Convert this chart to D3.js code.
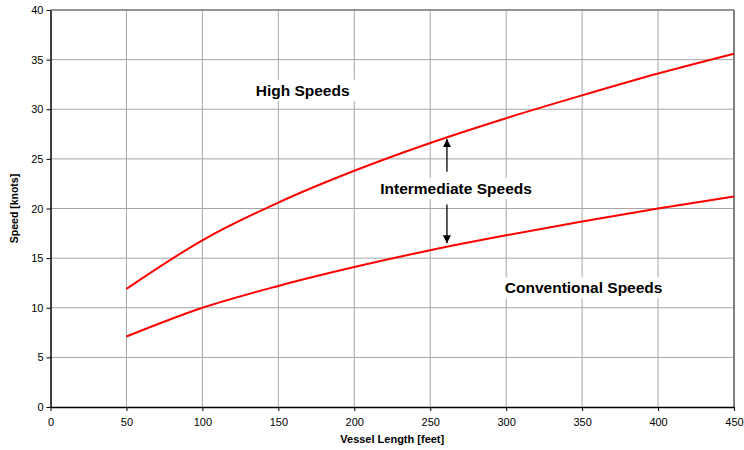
<!DOCTYPE html>
<html>
<head>
<meta charset="utf-8">
<script src="https://cdn.jsdelivr.net/npm/d3@7"></script>
<style>
  body { margin: 0; background: #fff; }
  text { font-family: 'Liberation Sans', Arial, sans-serif; }
</style>
</head>
<body>
<div id="chart"></div>
<script>
const lengths = [50, 100, 150, 200, 250, 300, 350, 400, 450]
const highSpeed = [11.9, 16.8, 20.6, 23.8, 26.6, 29.1, 31.4, 33.6, 35.6]
const conventionalSpeed = [7.1, 10.0, 12.2, 14.1, 15.8, 17.3, 18.7, 20.0, 21.2]
const xTicks = [0, 50, 100, 150, 200, 250, 300, 350, 400, 450]
const yTicks = [0, 5, 10, 15, 20, 25, 30, 35, 40]
const labels = [
  { text: 'High Speeds', x: 166, y: 31.9 },
  { text: 'Intermediate Speeds', x: 267, y: 22.0 },
  { text: 'Conventional Speeds', x: 351, y: 12.0 }
]
const arrows = [
  { x: 261, from: 23.7, to: 27.0 },
  { x: 261, from: 20.4, to: 16.5 }
]

const margin = { top: 10, left: 50.5, right: 10, bottom: 43 }
const width = 744 - margin.left - margin.right
const height = 450 - margin.top - margin.bottom

const root = d3.select('#chart')
  .append('svg')
  .attr('width', 744)
  .attr('height', 450)

root.append('defs').append('marker')
  .attr('id', 'head')
  .attr('viewBox', '0 0 10 10')
  .attr('refX', 10).attr('refY', 5)
  .attr('markerWidth', 8).attr('markerHeight', 8)
  .attr('markerUnits', 'userSpaceOnUse')
  .attr('orient', 'auto')
  .append('path')
  .attr('d', 'M0,0L10,5L0,10Z')
  .attr('fill', '#000')

const svg = root.append('g')
  .attr('transform', 'translate(' + margin.left + ',' + margin.top + ')')

const xScale = d3.scaleLinear().domain([0, 450]).range([0, width])
const yScale = d3.scaleLinear().domain([0, 40]).range([height, 0])

// grid
svg.append('g')
  .selectAll('line')
  .data(xTicks.slice(1))
  .enter().append('line')
  .attr('x1', d => xScale(d)).attr('x2', d => xScale(d))
  .attr('y1', 0).attr('y2', height)
  .attr('stroke', '#a6a6a6').attr('stroke-width', 1)

svg.append('g')
  .selectAll('line')
  .data(yTicks.slice(1))
  .enter().append('line')
  .attr('x1', 0).attr('x2', width)
  .attr('y1', d => yScale(d)).attr('y2', d => yScale(d))
  .attr('stroke', '#a6a6a6').attr('stroke-width', 1)

svg.append('line')
  .attr('x1', width).attr('x2', width)
  .attr('y1', 0).attr('y2', height)
  .attr('stroke', '#808080').attr('stroke-width', 2)
svg.append('line')
  .attr('x1', 0).attr('x2', width)
  .attr('y1', 0).attr('y2', 0)
  .attr('stroke', '#808080').attr('stroke-width', 1.5)

// labels with white boxes
labels.forEach(l => {
  const t = svg.append('text')
    .attr('x', xScale(l.x))
    .attr('y', yScale(l.y))
    .attr('text-anchor', 'middle')
    .attr('dy', '0.35em')
    .attr('font-size', 15.5)
    .attr('font-weight', 'bold')
    .text(l.text)
  const b = t.node().getBBox()
  svg.insert('rect', 'text')
    .attr('x', b.x - 6).attr('y', b.y - 2)
    .attr('width', b.width + 12).attr('height', b.height + 4)
    .attr('fill', '#fff')
})

// curves
const line = d3.line()
  .x((d, i) => xScale(lengths[i]))
  .y(d => yScale(d))
  .curve(d3.curveMonotoneX)

;[highSpeed, conventionalSpeed].forEach(s => {
  svg.append('path')
    .datum(s)
    .attr('d', line)
    .attr('fill', 'none')
    .attr('stroke', '#ff0000')
    .attr('stroke-width', 2)
})

// arrows
svg.selectAll('.arrow')
  .data(arrows)
  .enter().append('line')
  .attr('class', 'arrow')
  .attr('x1', d => xScale(d.x)).attr('x2', d => xScale(d.x))
  .attr('y1', d => yScale(d.from)).attr('y2', d => yScale(d.to))
  .attr('stroke', '#000').attr('stroke-width', 1.3)
  .attr('marker-end', 'url(#head)')

// axes
const xAxis = d3.axisBottom(xScale).tickValues(xTicks).tickSize(4).tickSizeOuter(0)
const gx = svg.append('g')
  .attr('transform', 'translate(0,' + height + ')')
  .call(xAxis)
gx.select('.domain').attr('stroke', '#000').attr('stroke-width', 1.5)
gx.selectAll('.tick line').attr('stroke', '#000')
gx.selectAll('text').attr('font-size', 11).attr('fill', '#000')
  .attr('font-family', "'Liberation Sans', Arial, sans-serif").attr('dy', '1.05em')

const yAxis = d3.axisLeft(yScale).tickValues(yTicks).tickSize(4).tickSizeOuter(0)
const gy = svg.append('g').call(yAxis)
gy.select('.domain').attr('stroke', '#000').attr('stroke-width', 1.5)
gy.selectAll('.tick line').attr('stroke', '#000')
gy.selectAll('text').attr('font-size', 11).attr('fill', '#000')
  .attr('font-family', "'Liberation Sans', Arial, sans-serif")

svg.append('text')
  .attr('x', width / 2)
  .attr('y', height + 36)
  .attr('text-anchor', 'middle')
  .attr('font-size', 11)
  .attr('font-weight', 'bold')
  .text('Vessel Length [feet]')

svg.append('text')
  .attr('transform', 'translate(' + (-33) + ',' + (height / 2) + ') rotate(-90)')
  .attr('text-anchor', 'middle')
  .attr('font-size', 10.5)
  .attr('font-weight', 'bold')
  .text('Speed [knots]')
</script>
</body>
</html>
